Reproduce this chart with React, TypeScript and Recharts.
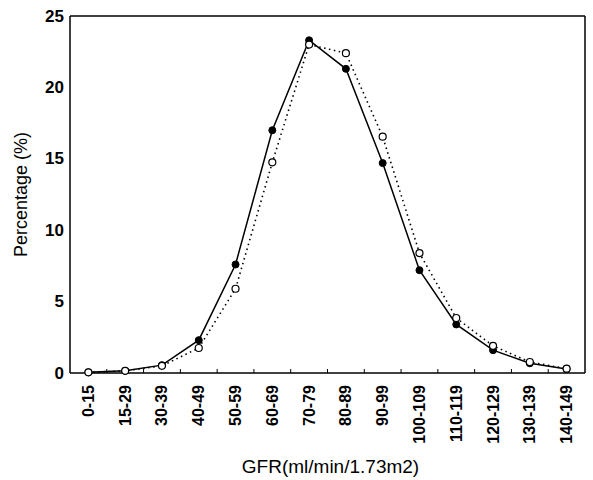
import { LineChart, Line, XAxis, YAxis, ReferenceLine } from 'recharts'

const categories = [
  '0-15', '15-29', '30-39', '40-49', '50-59', '60-69', '70-79',
  '80-89', '90-99', '100-109', '110-119', '120-129', '130-139', '140-149',
]
const solidValues = [0.05, 0.15, 0.55, 2.3, 7.6, 17.0, 23.3, 21.3, 14.7, 7.2, 3.4, 1.6, 0.68, 0.28]
const openValues = [0.05, 0.15, 0.5, 1.75, 5.9, 14.75, 23.0, 22.4, 16.55, 8.4, 3.85, 1.9, 0.77, 0.3]
const yTicks = [0, 5, 10, 15, 20, 25]

const data = categories.map((cat, i) => ({ idx: i, cat, solid: solidValues[i], open: openValues[i] }))

// labels sit on the categories, tick marks sit between them
const xTicks: number[] = []
for (let i = 0; i < categories.length; i++) {
  xTicks.push(i)
  if (i < categories.length - 1) xTicks.push(i + 0.5)
}

const font = '"Liberation Sans", Arial, Helvetica, sans-serif'

function XTick(props: any) {
  const { x, y, payload } = props
  const v = payload.value
  if (!Number.isInteger(v)) {
    return <line x1={x} y1={y} x2={x} y2={y - 4} stroke="#000" strokeWidth={1} />
  }
  return (
    <text
      x={x}
      y={y + 12}
      transform={`rotate(-90, ${x}, ${y + 12})`}
      textAnchor="end"
      dominantBaseline="central"
      fontFamily={font}
      fontWeight="bold"
      fontSize={16}
      fill="#000"
    >
      {categories[v]}
    </text>
  )
}

function YTick(props: any) {
  const { x, y, payload } = props
  return (
    <text x={x} y={y} textAnchor="end" dominantBaseline="central" fontFamily={font} fontWeight="bold" fontSize={17} fill="#000">
      {payload.value}
    </text>
  )
}

export default function App() {
  return (
    <div style={{ position: 'absolute', left: 0, top: 0, background: '#fff' }}>
      <LineChart width={593} height={480} data={data} margin={{ top: 16, right: 8, bottom: 0, left: 0 }}>
        <XAxis
          dataKey="idx"
          type="number"
          domain={[-0.5, 13.5]}
          ticks={xTicks}
          interval={0}
          tick={<XTick />}
          tickLine={false}
          tickSize={0}
          tickMargin={0}
          height={107}
          axisLine={{ stroke: '#000', strokeWidth: 1.5 }}
          label={{
            content: ({ viewBox }: any) => (
              <text
                x={viewBox.x + viewBox.width / 2 + 3}
                y={viewBox.y + 100}
                textAnchor="middle"
                fontFamily={font}
                fontSize={19}
                fill="#000"
                stroke="none"
              >
                GFR(ml/min/1.73m2)
              </text>
            ),
          }}
        />
        <YAxis
          domain={[0, 25]}
          ticks={yTicks}
          interval={0}
          tick={<YTick />}
          tickLine={false}
          tickSize={0}
          tickMargin={6}
          width={70}
          axisLine={{ stroke: '#000', strokeWidth: 1.5 }}
          label={{
            content: ({ viewBox }: any) => {
              const cx = viewBox.x + 21
              const cy = viewBox.y + viewBox.height / 2
              return (
                <text
                  x={cx}
                  y={cy}
                  transform={`rotate(-90, ${cx}, ${cy})`}
                  textAnchor="middle"
                  dominantBaseline="central"
                  fontFamily={font}
                  fontSize={18}
                  fill="#000"
                  stroke="none"
                >
                  Percentage (%)
                </text>
              )
            },
          }}
        />
        <ReferenceLine y={25} stroke="#000" strokeWidth={1.5} />
        <ReferenceLine x={13.5} stroke="#000" strokeWidth={1.5} />
        <Line
          dataKey="solid"
          type="linear"
          stroke="#000"
          strokeWidth={1.5}
          dot={{ r: 3.5, fill: '#000', stroke: '#000', strokeWidth: 1 }}
          isAnimationActive={false}
        />
        <Line
          dataKey="open"
          type="linear"
          stroke="#000"
          strokeWidth={1.6}
          strokeDasharray="1.5 3.5"
          dot={{ r: 3.5, fill: '#fff', stroke: '#000', strokeWidth: 1.2, strokeDasharray: '' }}
          isAnimationActive={false}
        />
      </LineChart>
    </div>
  )
}
